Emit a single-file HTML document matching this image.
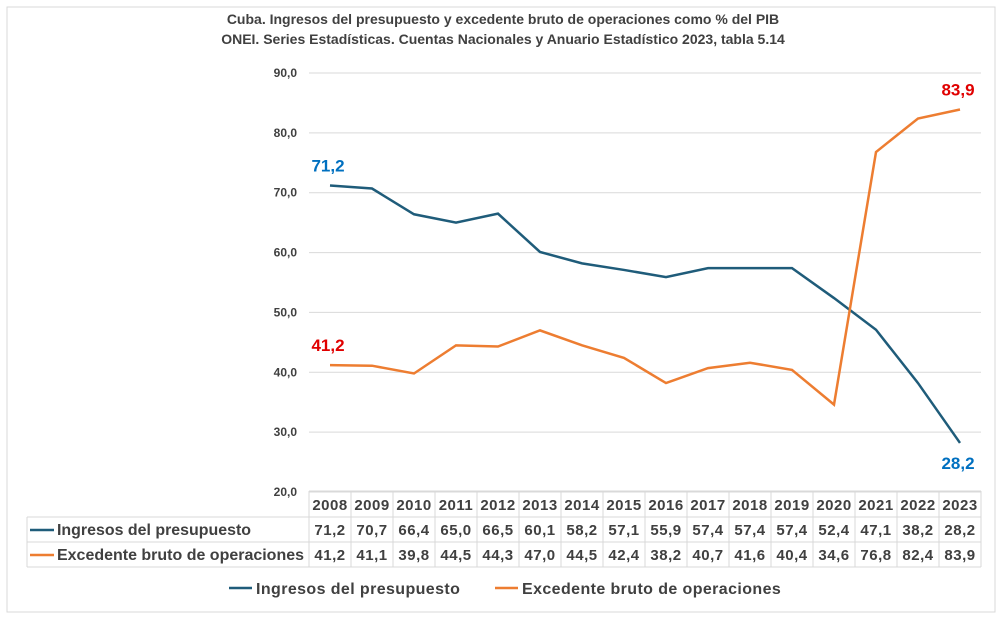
<!DOCTYPE html>
<html><head><meta charset="utf-8"><style>
body{margin:0;background:#fff;font-family:"Liberation Sans",sans-serif;}
svg{display:block}
text{font-family:"Liberation Sans",sans-serif;font-weight:bold;fill:#404040}
</style></head><body>
<svg id="chart" width="1006" height="623" viewBox="0 0 1006 623">
<rect x="7" y="7" width="988" height="605" fill="#fff" stroke="#d9d9d9"/>
<text x="503" y="24" text-anchor="middle" font-size="14">Cuba. Ingresos del presupuesto y excedente bruto de operaciones como % del PIB</text>
<text x="503" y="44" text-anchor="middle" font-size="14">ONEI. Series Estadísticas. Cuentas Nacionales y Anuario Estadístico 2023, tabla 5.14</text>
<g id="grid"></g><g id="ylab"></g><g id="table"></g><g id="lines"></g><g id="legend"></g>
</svg>
<script>
const categories=["2008","2009","2010","2011","2012","2013","2014","2015","2016","2017","2018","2019","2020","2021","2022","2023"];
const ingresos=[71.2,70.7,66.4,65.0,66.5,60.1,58.2,57.1,55.9,57.4,57.4,57.4,52.4,47.1,38.2,28.2];
const excedente=[41.2,41.1,39.8,44.5,44.3,47.0,44.5,42.4,38.2,40.7,41.6,40.4,34.6,76.8,82.4,83.9];
const yTicks=[20,30,40,50,60,70,80,90];
const NS="http://www.w3.org/2000/svg";
const x0=309,colW=42;
const xs=i=>x0+colW*(i+0.5);
const ys=v=>492-(v-20)*(419/70);
const fmt=v=>v.toFixed(1).replace('.',',');
function mk(tag,attrs,parent,txt){const e=document.createElementNS(NS,tag);for(const k in attrs)e.setAttribute(k,attrs[k]);if(txt!==undefined)e.textContent=txt;document.getElementById(parent).appendChild(e);return e;}
yTicks.forEach(t=>{
 const l=mk('line',{x1:x0,x2:981,y1:ys(t),y2:ys(t),stroke:'#d9d9d9'},'grid');
 
 
 const tx=mk('text',{x:297,y:ys(t)+4,'text-anchor':'end','font-size':'12'},'ylab',fmt(t));
 
 
});
const TS={'font-size':'15','letter-spacing':'0.5'};
mk('line',{x1:x0,x2:981,y1:491,y2:491,stroke:'#d9d9d9'},'table');
[517,542,567].forEach(y=>mk('line',{x1:27,x2:981,y1:y,y2:y,stroke:'#d9d9d9'},'table'));
mk('line',{x1:27,x2:27,y1:517,y2:567,stroke:'#d9d9d9'},'table');
for(let i=0;i<=categories.length;i++)mk('line',{x1:x0+colW*i,x2:x0+colW*i,y1:491,y2:567,stroke:'#d9d9d9'},'table');
categories.forEach((c,i)=>{
 const a=mk('text',Object.assign({x:xs(i),y:510,'text-anchor':'middle'},TS),'table',c);
 
 
 const b=mk('text',Object.assign({x:xs(i),y:535,'text-anchor':'middle'},TS),'table',fmt(ingresos[i]));
 
 
 const d=mk('text',Object.assign({x:xs(i),y:560,'text-anchor':'middle'},TS),'table',fmt(excedente[i]));
 
 
});
mk('line',{x1:30,x2:54,y1:530,y2:530,stroke:'#1f5c7a','stroke-width':2.5},'table');
mk('line',{x1:30,x2:54,y1:555,y2:555,stroke:'#ed7d31','stroke-width':2.5},'table');
const r1=mk('text',{x:57,y:535,'font-size':'16',textLength:'194',lengthAdjust:'spacingAndGlyphs'},'table','Ingresos del presupuesto');


const r2=mk('text',{x:57,y:560,'font-size':'16',textLength:'247',lengthAdjust:'spacingAndGlyphs'},'table','Excedente bruto de operaciones');


const p1=mk('polyline',{points:ingresos.map((v,i)=>xs(i)+','+ys(v)).join(' '),fill:'none',stroke:'#1f5c7a','stroke-width':2.5},'lines');


const p2=mk('polyline',{points:excedente.map((v,i)=>xs(i)+','+ys(v)).join(' '),fill:'none',stroke:'#ed7d31','stroke-width':2.5},'lines');


const n=categories.length-1;
const l1=mk('text',{x:xs(0)-2,y:ys(ingresos[0])-14,'text-anchor':'middle','font-size':'17',style:'fill:#0070c0'},'lines',fmt(ingresos[0]));


const l2=mk('text',{x:xs(n)-2,y:ys(ingresos[n])+26,'text-anchor':'middle','font-size':'17',style:'fill:#0070c0'},'lines',fmt(ingresos[n]));


const l3=mk('text',{x:xs(0)-2,y:ys(excedente[0])-14,'text-anchor':'middle','font-size':'17',style:'fill:#e00000'},'lines',fmt(excedente[0]));


const l4=mk('text',{x:xs(n)-2,y:ys(excedente[n])-14,'text-anchor':'middle','font-size':'17',style:'fill:#e00000'},'lines',fmt(excedente[n]));


mk('line',{x1:229,x2:252,y1:588,y2:588,stroke:'#1f5c7a','stroke-width':2.5},'legend');
const g1=mk('text',{x:256,y:594,'font-size':'16','letter-spacing':'0.4'},'legend','Ingresos del presupuesto');


mk('line',{x1:495,x2:518,y1:588,y2:588,stroke:'#ed7d31','stroke-width':2.5},'legend');
const g2=mk('text',{x:522,y:594,'font-size':'16','letter-spacing':'0.4'},'legend','Excedente bruto de operaciones');


</script>
</body></html>
